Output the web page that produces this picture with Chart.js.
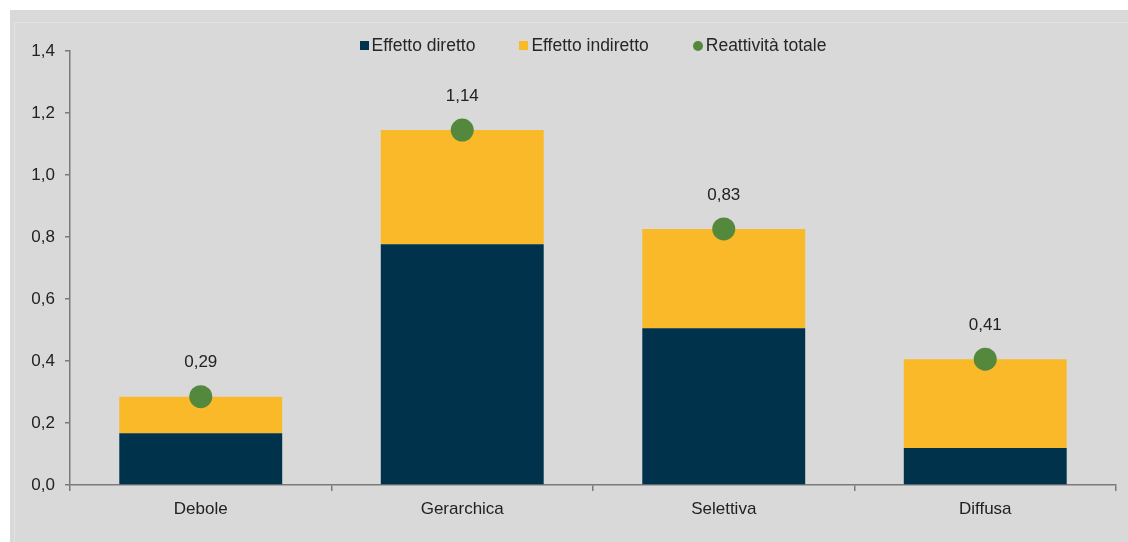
<!DOCTYPE html>
<html>
<head>
<meta charset="utf-8">
<script src="https://cdn.jsdelivr.net/npm/chart.js@4/dist/chart.umd.min.js"></script>
<style>
  body { margin: 0; background: #ffffff; }
  #panel { position: absolute; left: 10px; top: 10px; width: 1118px; height: 532px; background: #d9d9d9; }
  #inner { position: absolute; left: 14px; top: 22px; width: 1114px; height: 520px; border-top: 1px solid #e3e3e3; border-left: 1px solid #e3e3e3; }
  #legend { position: absolute; top: 35px; left: 70px; width: 1046px; display: flex; justify-content: center;
            font: 17.5px "Liberation Sans", Arial, sans-serif; color: #262626; }
  .item { display: flex; align-items: center; margin: 0 22px; }
  .sw { width: 9px; height: 9px; margin-right: 3px; }
  .dot { width: 10px; height: 10px; border-radius: 50%; margin-right: 3px; }
  #wrap { position: absolute; left: 0; top: 0; width: 1128px; height: 542px; }
</style>
</head>
<body>
<div id="panel"></div>
<div id="inner"></div>
<div id="wrap"><canvas id="chart" width="1128" height="542"></canvas></div>
<div id="legend"></div>
<script>
// Data
const categories = ["Debole", "Gerarchica", "Selettiva", "Diffusa"];
const effettoDiretto = [0.167, 0.777, 0.506, 0.119];
const effettoIndiretto = [0.118, 0.368, 0.320, 0.287];
const reattivitaTotale = [0.285, 1.145, 0.826, 0.406];
const totaleLabels = ["0,29", "1,14", "0,83", "0,41"];
const yTicks = [0, 0.2, 0.4, 0.6, 0.8, 1.0, 1.2, 1.4];

const colDiretto = "#00324b";
const colIndiretto = "#f9b928";
const colTotale = "#54893d";
const textColor = "#222222";
const axisColor = "#7a7a7a";
const font = { family: "'Liberation Sans', Arial, sans-serif", size: 17 };

// HTML legend
const legendItems = [
    ["Effetto diretto", colDiretto, "sw"],
    ["Effetto indiretto", colIndiretto, "sw"],
    ["Reattività totale", colTotale, "dot"],
];
document.getElementById("legend").innerHTML = legendItems
    .map(([t, c, cls]) => `<div class="item"><div class="${cls}" style="background:${c}"></div>${t}</div>`)
    .join("");

// draws the value above each point of the total series
const valueLabels = {
    id: "valueLabels",
    afterDatasetsDraw(chart) {
        const ctx = chart.ctx;
        const meta = chart.getDatasetMeta(2);
        ctx.save();
        ctx.font = `${font.size}px ${font.family}`;
        ctx.fillStyle = textColor;
        ctx.textAlign = "center";
        ctx.textBaseline = "middle";
        meta.data.forEach((pt, i) => {
            ctx.fillText(totaleLabels[i], pt.x, pt.y - 34);
        });
        ctx.restore();
    }
};

new Chart("chart", {
    type: "bar",
    data: {
        labels: categories,
        datasets: [
            {
                label: "Effetto diretto",
                data: effettoDiretto,
                backgroundColor: colDiretto,
                stack: "bars",
                order: 2,
            },
            {
                label: "Effetto indiretto",
                data: effettoIndiretto,
                backgroundColor: colIndiretto,
                stack: "bars",
                order: 2,
            },
            {
                label: "Reattività totale",
                type: "line",
                data: reattivitaTotale,
                showLine: false,
                stack: "total",
                pointRadius: 11.5,
                pointHoverRadius: 11.5,
                backgroundColor: colTotale,
                borderColor: colTotale,
                borderWidth: 0,
                order: 1,
            },
        ],
    },
    options: {
        responsive: false,
        animation: false,
        datasets: {
            bar: { barPercentage: 0.623, categoryPercentage: 1 },
        },
        layout: { padding: { top: 51, right: 12, left: 0, bottom: 0 } },
        plugins: {
            legend: { display: false },
            tooltip: { enabled: false },
        },
        scales: {
            x: {
                stacked: true,
                afterFit(scale) { scale.height = 57; },
                grid: { drawOnChartArea: false, drawTicks: true, tickLength: 6, color: axisColor, lineWidth: 1.5 },
                border: { color: axisColor, width: 1.5 },
                ticks: { color: textColor, font: font, padding: 8 },
            },
            y: {
                stacked: true,
                min: 0,
                max: 1.4,
                afterFit(scale) { scale.width = 70; },
                afterBuildTicks(scale) { scale.ticks = yTicks.map(v => ({ value: v })); },
                grid: { drawOnChartArea: false, drawTicks: true, tickLength: 5, color: axisColor, lineWidth: 1.5 },
                border: { color: axisColor, width: 1.5 },
                ticks: {
                    color: textColor,
                    font: font,
                    padding: 10,
                    callback: v => v.toFixed(1).replace(".", ","),
                },
            },
        },
    },
    plugins: [valueLabels],
});
</script>
</body>
</html>
